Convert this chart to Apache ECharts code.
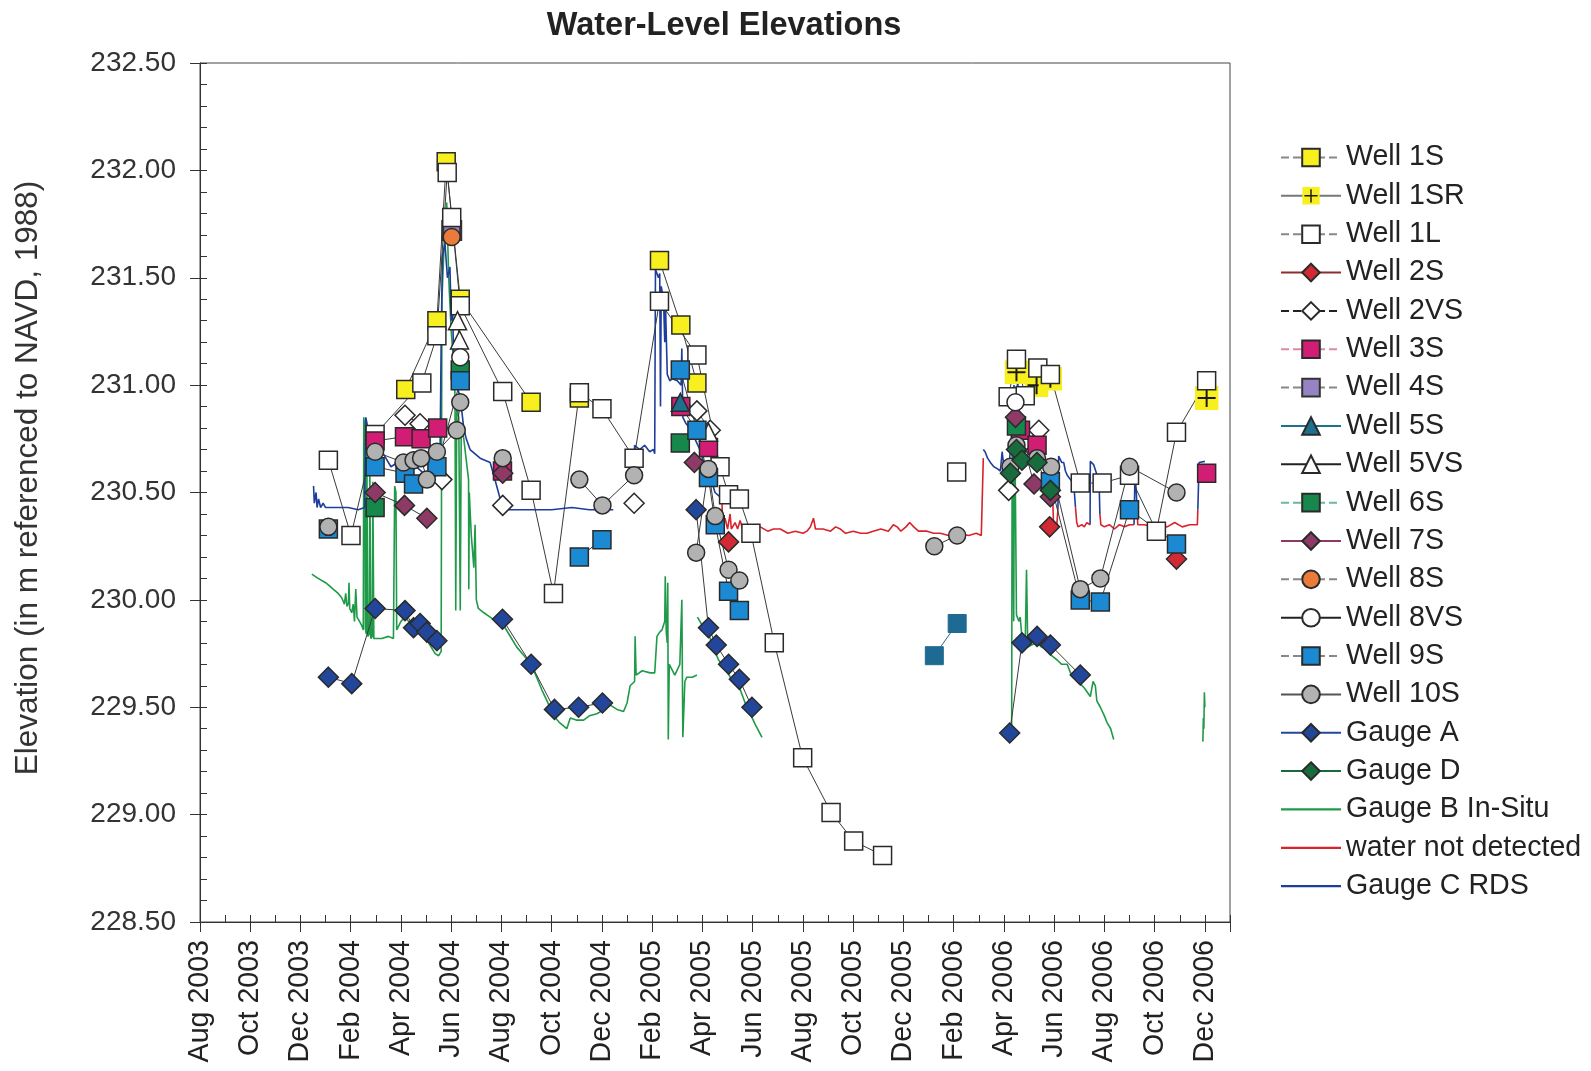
<!DOCTYPE html>
<html><head><meta charset="utf-8">
<script src="https://cdn.jsdelivr.net/npm/echarts@6/dist/echarts.min.js"></script>
<style>html,body{margin:0;padding:0;background:#fff}#c{width:1591px;height:1071px}</style>
</head><body><div id="c"></div>
<script>
// x values are months since Aug 1 2003 (0 = Aug 2003, 40 = Dec 2006); null = gap in line
const tickLabels = ['Aug 2003','Oct 2003','Dec 2003','Feb 2004','Apr 2004','Jun 2004','Aug 2004','Oct 2004','Dec 2004','Feb 2005','Apr 2005','Jun 2005','Aug 2005','Oct 2005','Dec 2005','Feb 2006','Apr 2006','Jun 2006','Aug 2006','Oct 2006','Dec 2006'];

const well1S = [[8.19,230.98],[9.43,231.30],[9.80,232.04],[10.36,231.40],[13.18,230.92],null,[15.10,230.94],null,[18.29,231.58],[19.14,231.28],[19.78,231.01]];
const well1SR = [[32.5,231.06],[33.3,231.00],[33.85,231.03],null,[40.07,230.94]];
const well1L = [[5.11,230.65],[6.01,230.30],[6.97,230.77],[8.83,231.01],[9.43,231.23],[9.84,231.99],[10.02,231.78],[10.36,231.37],[12.05,230.97],[13.18,230.51],[14.07,230.03],[15.10,230.965],[16.0,230.89],[17.28,230.66],[18.29,231.39],[19.78,231.14],[20.7,230.62],[21.04,230.49],[21.47,230.47],[21.93,230.31],[22.86,229.80],[23.99,229.265],[25.12,229.01],[26.02,228.877],[27.17,228.81],null,[30.12,230.595],null,[32.17,230.946],[32.5,231.12],[32.85,230.95],[33.35,231.08],[33.85,231.05],[35.04,230.544],[35.91,230.544],[37.0,230.58],[38.07,230.32],[38.87,230.78],[40.07,231.02]];
const well2S = [[21.04,230.27],null,[33.82,230.34],null,[38.87,230.19]];
const well2VS = [[8.16,230.86],[8.76,230.82],[9.63,230.56],null,[12.05,230.44],null,[17.28,230.45],null,[19.78,230.88],[20.31,230.79],null,[32.19,230.51],[32.77,230.73],[33.39,230.79]];
const well3S = [[6.97,230.74],[8.14,230.76],[8.80,230.75],[9.46,230.80],null,[12.04,230.60],null,[19.14,230.90],[20.24,230.71],null,[32.66,230.79],[33.32,230.72],null,[40.07,230.59]];
const well4S = [[10.02,231.72]];
const well5S = [[19.12,230.92]];
const well5VS = [[10.25,231.30],[10.33,231.21],null,[20.24,230.78]];
const well6S = [[6.97,230.43],null,[10.36,231.07],null,[19.12,230.73],null,[32.5,230.81]];
const well7S = [[6.97,230.50],[8.14,230.44],[9.03,230.38],null,[12.05,230.59],null,[19.68,230.64],null,[32.46,230.85],[33.2,230.54],[33.85,230.48]];
const well8S = [[10.02,231.69]];
const well8VS = [[10.36,231.13],null,[32.46,230.92]];
const well9S = [[5.11,230.33],null,[6.97,230.62],[8.16,230.59],[8.50,230.54],[9.43,230.62],[10.36,231.02],null,[15.10,230.20],[16.0,230.28],null,[19.12,231.07],[19.78,230.79],[20.24,230.57],[20.51,230.35],[21.04,230.04],[21.47,229.95],null,[33.85,230.55],[35.04,230.0],[35.84,229.99],[37.0,230.42],[38.87,230.26]];
const well9Sb = [[29.23,229.74],[30.14,229.89]];
const well10S = [[5.11,230.34],null,[6.97,230.69],[8.10,230.64],[8.50,230.65],[8.80,230.66],[9.03,230.56],[9.43,230.69],[10.22,230.79],[10.36,230.92],null,[12.05,230.66],null,[15.10,230.56],[16.02,230.44],[17.28,230.58],null,[19.75,230.22],[20.24,230.61],[20.51,230.39],[21.04,230.14],[21.47,230.09],null,[29.23,230.25],[30.14,230.30],null,[32.26,230.62],[32.5,230.72],[33.32,230.66],[33.88,230.62],[35.04,230.05],[35.84,230.10],[37.0,230.62],[38.87,230.50]];
const gaugeA = [[5.11,229.64],[6.04,229.61],[6.97,229.96],[8.16,229.95],[8.50,229.87],[8.76,229.89],[9.03,229.85],[9.43,229.81],null,[12.04,229.91],[13.18,229.70],[14.11,229.49],[15.07,229.50],[16.02,229.52],null,[19.75,230.42],[20.24,229.87],[20.55,229.79],[21.04,229.70],[21.47,229.63],[21.97,229.50],null,[32.23,229.38],[32.72,229.80],[33.32,229.83],[33.85,229.79],[35.04,229.65]];
const gaugeD = [[32.26,230.59],[32.50,230.70],[32.72,230.65],[33.32,230.64],[33.85,230.51]];

const gaugeB = [[4.45,230.12],[4.7,230.10],[5.0,230.08],[5.11,230.07],[5.3,230.05],[5.5,230.03],[5.64,230.01],[5.75,229.98],[5.8,230.03],[5.85,229.97],[5.91,229.985],[5.93,230.08],[5.96,229.96],[6.04,229.94],[6.1,229.98],[6.15,229.90],[6.2,230.05],[6.25,229.92],[6.35,229.90],[6.44,229.88],
[6.5,229.86],[6.52,230.85],[6.56,230.8],[6.58,229.87],[6.62,229.84],[6.64,230.70],[6.68,229.83],[6.74,229.84],[6.76,230.62],[6.8,229.82],[6.86,229.83],[6.88,230.55],[6.92,229.82],[7.0,229.82],
[7.24,229.82],[7.5,229.83],[7.7,229.82],[7.75,230.53],[7.8,230.5],[7.83,229.86],[8.0,229.9],[8.16,229.92],[8.3,229.9],[8.5,229.88],[8.83,229.85],[9.1,229.8],[9.36,229.75],[9.5,229.74],
[9.6,229.76],[9.63,231.4],[9.7,231.6],[9.82,231.85],[9.9,231.5],[10.0,231.25],[10.1,231.1],[10.15,230.95],[10.18,229.95],[10.22,230.9],[10.3,230.85],[10.36,229.95],[10.4,230.82],[10.5,230.75],[10.6,230.65],[10.69,230.56],[10.7,230.05],[10.72,230.5],[10.75,230.42],[10.8,230.3],[10.9,230.15],[10.95,230.35],[11.0,230.0],[11.08,229.96],[11.3,229.94],[11.55,229.92],[11.8,229.9],[12.04,229.89],[12.3,229.84],[12.61,229.78],[12.9,229.74],[13.18,229.70],[13.4,229.64],[13.61,229.58],[13.85,229.52],[14.07,229.46],[14.3,229.43],[14.6,229.40],[14.74,229.45],[15.0,229.44],[15.27,229.44],[15.5,229.46],[15.8,229.47],[16.1,229.49],[16.33,229.51],[16.6,229.49],[16.86,229.48],[17.0,229.52],[17.12,229.60],[17.3,229.62],[17.32,229.83],[17.36,229.65],[17.6,229.67],[17.92,229.66],[18.1,229.66],[18.19,229.83],[18.3,229.85],[18.39,229.86],[18.5,229.90],[18.52,230.11],[18.56,229.85],[18.6,229.8],[18.62,230.08],[18.64,229.35],[18.68,229.7],[18.9,229.65],[19.1,229.7],[19.18,230.0],[19.22,229.36],[19.3,229.62],[19.38,229.64],[19.6,229.64],[19.78,229.65],null,
[19.80,229.92],[20.0,229.88],[20.15,229.86],[20.31,229.82],[20.5,229.76],[20.64,229.72],[20.9,229.68],[21.11,229.64],[21.3,229.61],[21.51,229.58],[21.7,229.52],[21.9,229.47],[22.1,229.42],[22.37,229.36],null,
[32.28,229.38],[32.31,229.42],[32.33,230.82],[32.36,230.5],[32.39,229.9],[32.42,230.78],[32.45,230.6],[32.5,229.93],[32.6,229.9],[32.65,229.92],[32.72,229.82],[32.78,229.77],[32.85,229.8],[32.9,230.14],[32.95,229.78],[33.1,229.79],[33.32,229.80],[33.5,229.78],[33.72,229.77],[33.9,229.74],[34.12,229.72],[34.3,229.70],[34.52,229.70],[34.65,229.66],[34.78,229.645],[35.04,229.61],[35.2,229.59],[35.44,229.55],[35.55,229.62],[35.64,229.60],[35.7,229.53],[35.84,229.50],[36.0,229.46],[36.1,229.43],[36.25,229.40],[36.37,229.35],null,
[39.92,229.34],[39.94,229.45],[39.96,229.40],[39.98,229.57],[40.0,229.50]];

const waterNotDetected = [[20.78,230.45],[20.8,230.34],[20.9,230.38],[21.0,230.33],[21.1,230.40],[21.15,230.33],[21.3,230.36],[21.4,230.33],[21.5,230.37],[21.6,230.33],[21.8,230.34],[22.0,230.32],[22.3,230.34],[22.6,230.32],[22.83,230.33],[23.1,230.33],[23.4,230.31],[23.7,230.32],[24.0,230.31],[24.16,230.32],[24.3,230.34],[24.42,230.38],[24.5,230.33],[24.8,230.33],[25.1,230.32],[25.3,230.34],[25.49,230.33],[25.7,230.31],[26.0,230.32],[26.3,230.31],[26.55,230.31],[26.8,230.32],[27.1,230.33],[27.4,230.32],[27.6,230.35],[27.75,230.34],[27.9,230.32],[28.1,230.34],[28.25,230.36],[28.41,230.34],[28.6,230.32],[28.94,230.32],[29.2,230.31],[29.47,230.31],[29.8,230.30],[30.2,230.31],[30.6,230.30],[30.9,230.31],[31.1,230.30],[31.17,230.30],[31.18,230.66],null,
[33.95,230.45],[33.98,230.33],[34.1,230.34],[34.15,230.42],null,
[34.85,230.43],[34.9,230.36],[34.95,230.34],[35.1,230.35],[35.2,230.34],[35.3,230.36],[35.43,230.35],null,
[35.82,230.40],[35.86,230.35],[36.0,230.34],[36.2,230.35],[36.4,230.33],[36.6,230.35],[36.8,230.34],[37.0,230.35],[37.18,230.35],null,
[37.3,230.42],[37.33,230.35],[37.6,230.35],[37.9,230.34],[38.2,230.35],[38.5,230.34],[38.8,230.36],[39.1,230.34],[39.4,230.35],[39.7,230.35],[39.72,230.42]];

const gaugeC = [[4.52,230.53],[4.55,230.45],[4.62,230.50],[4.66,230.43],[4.72,230.47],[4.8,230.43],[4.9,230.45],[5.0,230.43],[5.4,230.43],[5.9,230.43],[6.3,230.42],[6.55,230.43],[6.6,230.85],[6.65,230.82],[6.7,230.7],[6.8,230.72],[7.0,230.65],[7.3,230.68],[7.6,230.62],[8.0,230.65],[8.3,230.6],[8.6,230.62],[9.0,230.58],[9.3,230.6],[9.55,230.62],[9.6,231.2],[9.65,231.6],[9.75,231.66],[9.85,231.5],[9.95,231.55],[10.0,231.3],[10.05,231.4],[10.1,231.1],[10.2,231.0],[10.35,230.95],[10.5,230.8],[10.6,230.75],[10.75,230.70],[11.15,230.66],[11.55,230.64],[11.81,230.53],[11.95,230.47],[12.08,230.42],[13,230.42],[14,230.42],[14.8,230.43],[15.5,230.42],[16.45,230.42],null,
[17.28,230.62],[17.30,230.72],[17.5,230.70],[17.7,230.72],[17.9,230.69],[18.05,230.70],[18.10,230.68],[18.13,231.54],[18.25,231.50],[18.3,231.52],[18.33,230.90],[18.36,231.46],[18.45,231.40],[18.5,231.20],[18.52,231.42],[18.6,231.05],[18.7,231.02],[18.8,231.03],[19.0,231.02],[19.15,231.0],[19.18,231.17],[19.22,230.85],[19.35,230.82],[19.5,230.8],[19.7,230.75],[19.9,230.7],[20.1,230.62],[20.3,230.58],[20.5,230.5],[20.7,230.48],[20.78,230.45],null,
[31.18,230.70],[31.25,230.69],[31.35,230.66],[31.46,230.64],[31.6,230.62],[31.75,230.61],[31.86,230.60],[31.93,230.69],[32.0,230.62],[32.1,230.60],[32.2,230.62],[32.3,230.75],[32.4,231.0],[32.45,230.85],[32.55,231.02],[32.6,230.9],[32.7,230.75],[32.8,230.7],[33.0,230.68],[33.2,230.7],[33.4,230.66],[33.6,230.64],[33.8,230.62],[33.9,230.45],[33.95,230.45],null,
[34.15,230.42],[34.18,230.67],[34.3,230.64],[34.38,230.64],[34.45,230.6],[34.52,230.58],[34.65,230.56],[34.78,230.54],[34.85,230.43],null,
[35.43,230.35],[35.44,230.645],[35.57,230.63],[35.71,230.58],[35.8,230.5],[35.82,230.40],null,
[37.18,230.35],[37.22,230.60],[37.27,230.5],[37.3,230.42],null,
[39.72,230.42],[39.77,230.64],[40.0,230.645]];

const FONT = '"Liberation Sans", Arial, sans-serif';
const fix = arr => arr.map(p => p === null ? ['-','-'] : p);

function sym1SR(){
  const svg = "<svg xmlns='http://www.w3.org/2000/svg' width='24' height='24'><rect width='24' height='24' fill='#f7ef1e'/><path d='M12 3V21M3 12H21' stroke='#1a1a1a' stroke-width='2'/></svg>";
  return 'image://data:image/svg+xml;charset=utf-8,' + encodeURIComponent(svg);
}

function well(name, data, symbol, color, size, extra) {
  return Object.assign({
    name, type: 'line', data: fix(data), symbol, symbolSize: size || 18,
    showAllSymbol: true, connectNulls: false, animation: false,
    itemStyle: { color, borderColor: '#2a2a2a', borderWidth: 1.5 },
    lineStyle: { color: '#3a3a3a', width: 1 }, z: 5
  }, extra || {});
}
function trace(name, data, color) {
  return { name, type: 'line', data: fix(data), symbol: 'none', connectNulls: false, animation: false,
    itemStyle: { color }, lineStyle: { color, width: 1.6 }, z: 2 };
}

const series = [
  trace('Gauge B In-Situ', gaugeB, '#1f9a48'),
  trace('Gauge C RDS', gaugeC, '#1d3e9c'),
  trace('water not detected', waterNotDetected, '#d8232b'),
  well('Well 1S', well1S, 'rect', '#f7ef1e', 18),
  well('Well 1SR', well1SR, sym1SR(), '#f7ef1e', 24),
  well('Well 4S', well4S, 'rect', '#9583c4', 18, {itemStyle:{color:'#9583c4', borderColor:'#333', borderWidth:3}}),
  well('Well 1L', well1L, 'rect', '#ffffff', 18),
  well('Well 2S', well2S, 'diamond', '#d22a34', 20),
  well('Well 2VS', well2VS, 'diamond', '#ffffff', 20),
  well('Well 3S', well3S, 'rect', '#d21d74', 18),
  well('Well 5S', well5S, 'triangle', '#1f6f8e', 18),
  well('Well 5VS', well5VS, 'triangle', '#ffffff', 18),
  well('Well 6S', well6S, 'rect', '#17884b', 18),
  well('Well 7S', well7S, 'diamond', '#8d3b66', 20),
  well('Well 8S', well8S, 'circle', '#ea7b3a', 17),
  well('Well 8VS', well8VS, 'circle', '#ffffff', 17),
  well('Well 9S', well9S, 'rect', '#1b8ad2', 18),
  well('Well 9S b', well9Sb, 'rect', '#1f6a92', 18, {itemStyle:{color:'#1f6a92', borderColor:'#1f6a92', borderWidth:1}, lineStyle:{color:'#1f6a92', width:1}}),
  well('Well 10S', well10S, 'circle', '#b2b2b2', 17),
  well('Gauge A', gaugeA, 'diamond', '#22479a', 20),
  well('Gauge D', gaugeD, 'diamond', '#186b3c', 20)
];

const legendLines = {
  'Well 1S': {color:'#888', type:'dashed'}, 'Well 1SR': {color:'#777', type:'solid'}, 'Well 1L': {color:'#888', type:'dashed'},
  'Well 2S': {color:'#8a2e2e', type:'solid'}, 'Well 2VS': {color:'#222', type:'dashed'}, 'Well 3S': {color:'#d88aa8', type:'dashed'},
  'Well 4S': {color:'#888', type:'dashed'}, 'Well 5S': {color:'#1f6f8e', type:'solid'}, 'Well 5VS': {color:'#222', type:'solid'},
  'Well 6S': {color:'#6ab8a0', type:'dashed'}, 'Well 7S': {color:'#8d3b66', type:'solid'}, 'Well 8S': {color:'#888', type:'dashed'},
  'Well 8VS': {color:'#222', type:'solid'}, 'Well 9S': {color:'#888', type:'dashed'}, 'Well 10S': {color:'#555', type:'solid'},
  'Gauge A': {color:'#22479a', type:'solid'}, 'Gauge D': {color:'#186b3c', type:'solid'}
};
const lineIcon = 'path://M0 0H60V2.2H0Z';
const legendOrder = ['Well 1S','Well 1SR','Well 1L','Well 2S','Well 2VS','Well 3S','Well 4S','Well 5S','Well 5VS','Well 6S','Well 7S','Well 8S','Well 8VS','Well 9S','Well 10S','Gauge A','Gauge D','Gauge B In-Situ','water not detected','Gauge C RDS'];
const traceNames = ['Gauge B In-Situ','water not detected','Gauge C RDS'];

const chart = echarts.init(document.getElementById('c'), null, {renderer: 'canvas'});
chart.setOption({
  animation: false,
  backgroundColor: '#ffffff',
  title: { text: 'Water-Level Elevations', left: 719, textAlign: 'center', top: 5,
    textStyle: { fontFamily: FONT, fontSize: 32.5, fontWeight: 'bold', color: '#222' } },
  grid: { left: 200, right: 361, top: 63, bottom: 149, show: true, borderColor: '#444', borderWidth: 1, backgroundColor: 'transparent' },
  legend: {
    orient: 'vertical', left: 1280, top: 143, itemWidth: 60, itemHeight: 22, itemGap: 9.35, padding: 0,
    textStyle: { fontFamily: FONT, fontSize: 28.6, color: '#222', lineHeight: 29 },
    data: legendOrder.map(n => traceNames.includes(n) ? { name: n, icon: lineIcon } : { name: n, lineStyle: legendLines[n] })
  },
  xAxis: [{
    type: 'value', min: 0, max: 41, interval: 2,
    axisLine: { lineStyle: { color: '#333', width: 1 } },
    axisTick: { show: true, length: 10, lineStyle: { color: '#333' } },
    minorTick: { show: false },
    splitLine: { show: false },
    axisLabel: { rotate: 90, margin: 18, fontFamily: FONT, fontSize: 28.6, color: '#222',
      formatter: v => (v % 2 === 0 && tickLabels[v/2]) ? tickLabels[v/2] : '' }
  }, {
    type: 'value', min: 0, max: 41, interval: 1, position: 'bottom',
    axisLine: { show: false }, axisLabel: { show: false }, splitLine: { show: false },
    axisTick: { show: true, inside: true, length: 7, lineStyle: { color: '#333' } }
  }],
  yAxis: [{
    type: 'value', min: 228.5, max: 232.5, interval: 0.5,
    axisLine: { show: true, lineStyle: { color: '#333', width: 1 } },
    axisTick: { show: true, length: 10, lineStyle: { color: '#333' } },
    splitLine: { show: false },
    axisLabel: { margin: 24, fontFamily: FONT, fontSize: 28, color: '#333', formatter: v => v.toFixed(2) }
  }, {
    type: 'value', min: 228.5, max: 232.5, interval: 0.1, position: 'left',
    axisLine: { show: false }, axisLabel: { show: false }, splitLine: { show: false },
    axisTick: { show: true, inside: true, length: 7, lineStyle: { color: '#333' } }
  }],
  graphic: [{ type: 'text', x: 28, y: 478, rotation: Math.PI / 2,
    style: { text: 'Elevation (in m referenced to NAVD, 1988)', font: '31.5px ' + FONT, fill: '#333', align: 'center', verticalAlign: 'middle' } }],
  series: series
});
</script></body></html>
